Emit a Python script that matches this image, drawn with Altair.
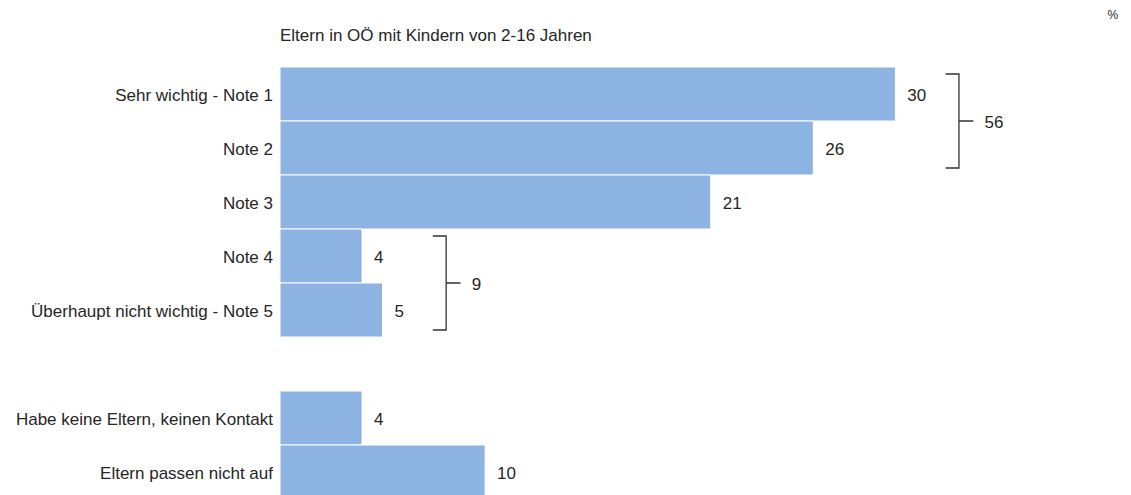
import altair as alt
import pandas as pd

# ---- data ----
categories = [
    "Sehr wichtig - Note 1",
    "Note 2",
    "Note 3",
    "Note 4",
    "Überhaupt nicht wichtig - Note 5",
    "Habe keine Eltern, keinen Kontakt",
    "Eltern passen nicht auf",
]
values = [30, 26, 21, 4, 5, 4, 10]
rows = [0, 1, 2, 3, 4, 6, 7]          # row 5 is an empty spacer row

group_labels = ["56", "9"]
group_first_row = [0, 3]
group_last_row = [1, 4]
group_max_value = [30, 5]

title_text = "Eltern in OÖ mit Kindern von 2-16 Jahren"
unit_text = "%"

FONT = "Liberation Sans"
TXT = "#262626"
BAR = "#8DB3E2"
FS = 17

bars = pd.DataFrame({"cat": categories, "val": values, "row": rows})
bars["y0"] = bars["row"] - 0.5
bars["y1"] = bars["row"] + 0.5
bars["zero"] = 0

# bracket paths
pts = []
for g, (lab, r0, r1, m) in enumerate(zip(group_labels, group_first_row, group_last_row, group_max_value)):
    xv = m + 3.1
    top, bot, mid = r0 - 0.37, r1 + 0.37, (r0 + r1) / 2
    path = [(xv - 0.65, top), (xv, top), (xv, mid), (xv + 0.7, mid),
            (xv, mid), (xv, bot), (xv - 0.65, bot)]
    for i, (px, py) in enumerate(path):
        pts.append({"g": g, "i": i, "x": px, "y": py})
brackets = pd.DataFrame(pts)
blabels = pd.DataFrame({
    "lab": group_labels,
    "x": [m + 3.1 + 1.25 for m in group_max_value],
    "y": [(a + b) / 2 for a, b in zip(group_first_row, group_last_row)],
})
unit = pd.DataFrame({"t": [unit_text], "x": [40.6], "y": [-1.47]})
titled = pd.DataFrame({"t": [title_text], "x": [0], "y": [-0.975]})

W = 841
H = 432
xs = alt.Scale(domain=[0, 41], nice=False, zero=True)
ys = alt.Scale(domain=[-0.5, 7.5], reverse=True, nice=False, zero=False)

base = alt.Chart(bars)

bar = base.mark_bar(color=BAR, stroke="white", strokeWidth=1, clip=True).encode(
    x=alt.X("zero:Q", scale=xs, axis=None),
    x2="val:Q",
    y=alt.Y("y0:Q", scale=ys, axis=None),
    y2="y1:Q",
)

vlabels = base.mark_text(align="left", baseline="middle", dx=12, dy=2, fontSize=FS, font=FONT, color=TXT).encode(
    x=alt.X("val:Q", scale=xs),
    y=alt.Y("row:Q", scale=ys),
    text="val:Q",
)

clabels = base.mark_text(align="right", baseline="middle", dx=-7, dy=2, fontSize=FS, font=FONT, color=TXT).encode(
    x=alt.X("zero:Q", scale=xs),
    y=alt.Y("row:Q", scale=ys),
    text="cat:N",
)

br = alt.Chart(brackets).mark_line(color="#333333", strokeWidth=1.3).encode(
    x=alt.X("x:Q", scale=xs),
    y=alt.Y("y:Q", scale=ys),
    detail="g:N",
    order="i:Q",
)

brl = alt.Chart(blabels).mark_text(align="left", baseline="middle", dy=2, fontSize=FS, font=FONT, color=TXT).encode(
    x=alt.X("x:Q", scale=xs),
    y=alt.Y("y:Q", scale=ys),
    text="lab:N",
)

un = alt.Chart(unit).mark_text(align="center", baseline="middle", fontSize=12, font=FONT, color=TXT).encode(
    x=alt.X("x:Q", scale=xs),
    y=alt.Y("y:Q", scale=ys),
    text="t:N",
)

ttl = alt.Chart(titled).mark_text(align="left", baseline="alphabetic", fontSize=FS, font=FONT, color=TXT).encode(
    x=alt.X("x:Q", scale=xs),
    y=alt.Y("y:Q", scale=ys),
    text="t:N",
)

chart = alt.layer(bar, vlabels, clabels, br, brl, un, ttl).properties(
    width=W,
    height=H,
    background="white",
    autosize=alt.AutoSizeParams(type="none"),
    padding={"left": 272, "top": 59, "right": 0, "bottom": -4},
).configure_view(stroke=None)

chart.save("out.html", embed_options={"renderer": "svg", "actions": False})
